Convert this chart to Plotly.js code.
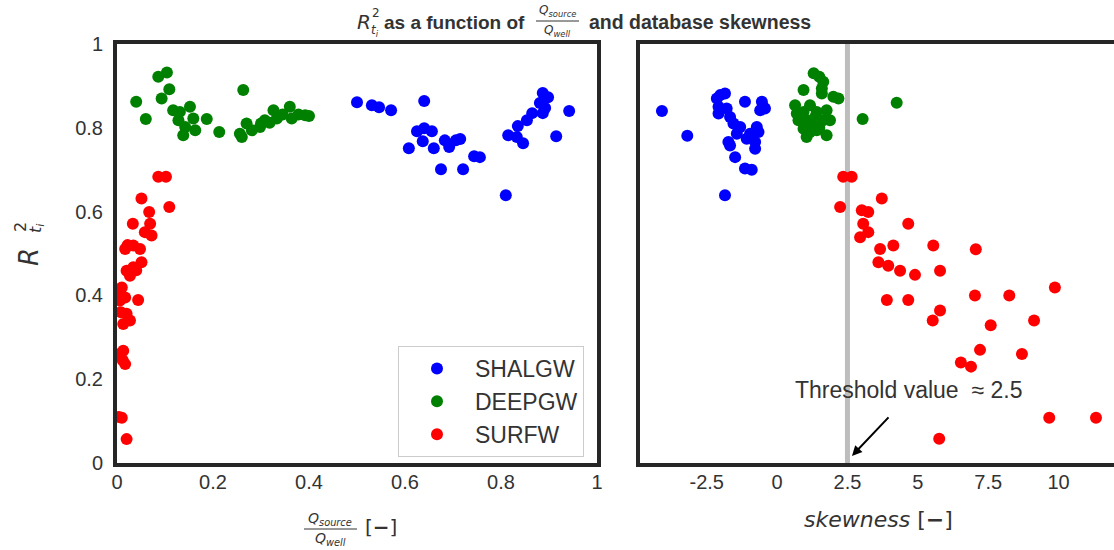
<!DOCTYPE html>
<html>
<head>
<meta charset="utf-8">
<script src="https://cdn.plot.ly/plotly-3.0.1.min.js"></script>
<style>html,body{margin:0;padding:0;background:#fff;}#chart{width:1114px;height:550px;}</style>
</head>
<body>
<div id="chart"></div>
<script>
// ---------- data ----------
const seriesNames = ['SHALGW', 'DEEPGW', 'SURFW'];
const seriesColors = ['#0000ff', '#008000', '#ff0000'];

// left panel: Q_source / Q_well ratio vs R2
const shalRatio = [0.887,0.898,0.881,0.892,0.887,0.865,0.854,0.835,0.815,0.833,0.846,0.942,0.915,0.756,0.810,0.500,0.531,0.546,0.571,0.640,0.625,0.640,0.656,0.608,0.637,0.660,0.683,0.692,0.706,0.715,0.675,0.721,0.744];
const shalR2    = [0.883,0.873,0.859,0.847,0.835,0.835,0.818,0.804,0.782,0.778,0.763,0.840,0.780,0.730,0.639,0.861,0.854,0.849,0.842,0.864,0.792,0.799,0.792,0.751,0.768,0.751,0.770,0.754,0.770,0.773,0.701,0.701,0.732];

const deepRatio = [0.040,0.060,0.086,0.104,0.093,0.109,0.117,0.131,0.128,0.142,0.138,0.152,0.159,0.163,0.187,0.213,0.263,0.256,0.270,0.281,0.298,0.308,0.326,0.333,0.360,0.364,0.392,0.260,0.300,0.318,0.345,0.378,0.400];
const deepR2    = [0.862,0.821,0.922,0.932,0.870,0.892,0.842,0.838,0.818,0.802,0.782,0.850,0.822,0.794,0.821,0.790,0.890,0.786,0.810,0.794,0.802,0.818,0.842,0.822,0.850,0.822,0.830,0.778,0.810,0.812,0.832,0.832,0.828];

const surfRatio = [0.086,0.102,0.051,0.109,0.067,0.033,0.069,0.058,0.072,0.017,0.034,0.048,0.051,0.034,0.020,0.027,0.010,0.017,0.044,0.020,0.013,0.027,0.013,0.017,0.010,0.020,0.006,0.005,0.008,0.006,0.012,0.022,0.040,0.004];
const surfR2    = [0.683,0.683,0.631,0.611,0.599,0.571,0.571,0.551,0.543,0.511,0.519,0.511,0.479,0.467,0.459,0.447,0.419,0.395,0.389,0.356,0.332,0.340,0.268,0.236,0.108,0.057,0.388,0.400,0.360,0.260,0.245,0.520,0.460,0.110];

// right panel: database skewness vs R2
const shalSkew  = [-4.09,-3.19,-1.85,-2.02,-1.85,-2.14,-2.08,-1.79,-2.08,-1.67,-1.55,-1.31,-1.43,-1.14,-0.54,-0.49,-0.60,-0.43,-0.72,-0.66,-0.96,-1.08,-0.78,-0.78,-1.73,-1.49,-1.14,-0.90,-1.67];
const shalR2s   = [0.840,0.781,0.639,0.878,0.882,0.870,0.850,0.846,0.834,0.826,0.810,0.802,0.786,0.862,0.862,0.850,0.842,0.846,0.802,0.790,0.786,0.774,0.766,0.750,0.766,0.730,0.703,0.700,0.758];

const deepSkew  = [0.94,1.59,1.64,2.00,2.18,0.64,1.17,0.70,0.94,1.41,1.76,0.76,1.05,1.23,1.64,1.88,0.94,1.17,1.41,1.76,1.05,3.04,4.25,1.59,1.35,1.30,1.50,0.85,1.50];
const deepR2s   = [0.890,0.894,0.910,0.874,0.870,0.854,0.854,0.834,0.838,0.838,0.842,0.818,0.818,0.810,0.818,0.818,0.798,0.790,0.794,0.782,0.778,0.821,0.860,0.882,0.826,0.930,0.922,0.830,0.800];

const surfSkew  = [2.35,2.65,3.72,2.24,3.01,3.24,3.06,4.66,3.24,2.95,3.66,4.13,5.55,7.06,3.60,3.95,4.37,4.90,5.79,9.87,3.90,4.66,7.03,8.25,5.79,5.53,7.59,9.13,7.21,8.70,6.53,6.89,9.67,11.33,5.76];
const surfR2s   = [0.683,0.683,0.631,0.611,0.603,0.599,0.571,0.571,0.551,0.539,0.511,0.519,0.519,0.510,0.479,0.471,0.459,0.449,0.459,0.419,0.389,0.389,0.400,0.400,0.364,0.340,0.329,0.340,0.270,0.260,0.240,0.230,0.108,0.108,0.058];

// tick labels
const ratioTickVals = [0, 0.2, 0.4, 0.6, 0.8, 1];
const ratioTickText = ['0', '0.2', '0.4', '0.6', '0.8', '1'];
const r2TickVals = [0, 0.2, 0.4, 0.6, 0.8, 1];
const r2TickText = ['0', '0.2', '0.4', '0.6', '0.8', '1'];
const skewTickVals = [-2.5, 0, 2.5, 5, 7.5, 10];
const skewTickText = ['-2.5', '0', '2.5', '5', '7.5', '10'];
const thresholdValue = 2.5;

// ---------- layout helpers (pixel -> paper) ----------
const W = 1114, H = 550, ML = 117, MR = 0, MT = 44, MB = 87;
const PX = x => (x - ML) / (W - ML - MR);
const PY = y => (H - MB - y) / (H - MT - MB);

const TXT = '#333333';
const FRAME = '#262626';
const SANS = 'Liberation Sans, Arial, sans-serif';
const DJV = 'DejaVu Sans, sans-serif';

const leftX = [shalRatio, deepRatio, surfRatio];
const leftY = [shalR2, deepR2, surfR2];
const rightX = [shalSkew, deepSkew, surfSkew];
const rightY = [shalR2s, deepR2s, surfR2s];

const traces = [];
for (let i = 0; i < 3; i++) {
  traces.push({
    type: 'scatter', mode: 'markers', name: seriesNames[i],
    x: leftX[i], y: leftY[i], xaxis: 'x', yaxis: 'y',
    legendgroup: 'g' + i,
    marker: {color: seriesColors[i], size: 12, line: {width: 0}}
  });
}
for (let i = 0; i < 3; i++) {
  traces.push({
    type: 'scatter', mode: 'markers', name: seriesNames[i],
    x: rightX[i], y: rightY[i], xaxis: 'x2', yaxis: 'y2',
    legendgroup: 'g' + i, showlegend: false,
    marker: {color: seriesColors[i], size: 12, line: {width: 0}}
  });
}

const tickFont = {family: SANS, size: 20, color: TXT};

const annotations = [
  // title pieces
  {text: '<i>R</i>', x: PX(355), y: PY(22), xanchor: 'left', yanchor: 'middle', font: {family: DJV, size: 20, color: TXT}},
  {text: '2', x: PX(370), y: PY(13), xanchor: 'left', yanchor: 'middle', font: {family: DJV, size: 12, color: TXT}},
  {text: '<i>t<sub>i</sub></i>', x: PX(369), y: PY(31), xanchor: 'left', yanchor: 'middle', font: {family: DJV, size: 12, color: TXT}},
  {text: '<b>as a function of</b>', x: PX(382), y: PY(22), xanchor: 'left', yanchor: 'middle', font: {family: SANS, size: 19, color: TXT}},
  {text: '<i>Q<sub>source</sub></i>', x: PX(557), y: PY(11), xanchor: 'center', yanchor: 'middle', font: {family: DJV, size: 12, color: TXT}},
  {text: '<i>Q<sub>well</sub></i>', x: PX(557), y: PY(31), xanchor: 'center', yanchor: 'middle', font: {family: DJV, size: 12, color: TXT}},
  {text: '<b>and database skewness</b>', x: PX(587), y: PY(22), xanchor: 'left', yanchor: 'middle', font: {family: SANS, size: 19.5, color: TXT}},
  // y axis title
  {text: '<i>R</i>', x: PX(29), y: PY(257), textangle: -90, xanchor: 'center', yanchor: 'middle', font: {family: DJV, size: 26, color: TXT}},
  {text: '2', x: PX(21), y: PY(227), textangle: -90, xanchor: 'center', yanchor: 'middle', font: {family: DJV, size: 16, color: TXT}},
  {text: '<i>t<sub>i</sub></i>', x: PX(36), y: PY(228), textangle: -90, xanchor: 'center', yanchor: 'middle', font: {family: DJV, size: 16, color: TXT}},
  // left x axis title
  {text: '<i>Q<sub>source</sub></i>', x: PX(330), y: PY(519), xanchor: 'center', yanchor: 'middle', font: {family: DJV, size: 14, color: TXT}},
  {text: '<i>Q<sub>well</sub></i>', x: PX(330), y: PY(539), xanchor: 'center', yanchor: 'middle', font: {family: DJV, size: 14, color: TXT}},
  {text: '[<b>\u2212</b>]', x: PX(381), y: PY(527), xanchor: 'center', yanchor: 'middle', font: {family: DJV, size: 20, color: TXT}},
  // right x axis title
  {text: '<i>skewness</i> [<b>\u2212</b>]', x: PX(878), y: PY(519), xanchor: 'center', yanchor: 'middle', font: {family: DJV, size: 22, color: TXT}},
  // threshold text + arrow
  {text: 'Threshold value\u00a0 \u2248 2.5', x: PX(908), y: PY(390), xanchor: 'center', yanchor: 'middle', font: {family: SANS, size: 23, color: TXT}},
  {text: '', xref: 'x2', yref: 'y2', x: 2.66, y: 0.017, ax: 38, ay: -40, showarrow: true, arrowhead: 2, arrowsize: 1, arrowwidth: 2, arrowcolor: '#000', standoff: 0}
].map(a => Object.assign({xref: 'paper', yref: 'paper', showarrow: false}, a));

const shapes = [
  {type: 'line', xref: 'x2', yref: 'y2 domain', x0: thresholdValue, x1: thresholdValue, y0: 0, y1: 1, line: {color: '#bdbdbd', width: 5}, layer: 'below'},
  {type: 'line', xref: 'paper', yref: 'paper', x0: PX(536), x1: PX(579), y0: PY(21), y1: PY(21), line: {color: TXT, width: 1}},
  {type: 'line', xref: 'paper', yref: 'paper', x0: PX(304), x1: PX(357), y0: PY(529), y1: PY(529), line: {color: TXT, width: 1}}
];

const layout = {
  width: W, height: H,
  margin: {l: ML, r: MR, t: MT, b: MB, pad: 0},
  paper_bgcolor: '#ffffff', plot_bgcolor: '#ffffff',
  showlegend: true,
  legend: {
    x: PX(398), y: PY(346), xanchor: 'left', yanchor: 'top',
    bgcolor: '#ffffff', bordercolor: '#cccccc', borderwidth: 1,
    font: {family: SANS, size: 23, color: TXT},
    traceorder: 'grouped', tracegroupgap: 0, itemwidth: 66
  },
  xaxis: {
    domain: [0, PX(597)], range: [0, 1], tickvals: ratioTickVals, ticktext: ratioTickText,
    showgrid: false, zeroline: false, showline: true, mirror: true, linecolor: FRAME, linewidth: 4,
    ticks: '', tickfont: tickFont, ticklabelstandoff: -2, anchor: 'y'
  },
  yaxis: {
    domain: [0, 1], range: [0, 1], tickvals: r2TickVals, ticktext: r2TickText,
    showgrid: false, zeroline: false, showline: true, mirror: true, linecolor: FRAME, linewidth: 4,
    ticks: '', tickfont: tickFont, ticklabelstandoff: 6, anchor: 'x'
  },
  xaxis2: {
    domain: [PX(640), 1], range: [-4.87, 11.97], tickvals: skewTickVals, ticktext: skewTickText,
    showgrid: false, zeroline: false, showline: true, mirror: true, linecolor: FRAME, linewidth: 4,
    ticks: '', tickfont: tickFont, ticklabelstandoff: -2, anchor: 'y2'
  },
  yaxis2: {
    domain: [0, 1], range: [0, 1], showticklabels: false,
    showgrid: false, zeroline: false, showline: true, mirror: false, linecolor: FRAME, linewidth: 4,
    ticks: '', anchor: 'x2'
  },
  annotations: annotations,
  shapes: shapes
};

Plotly.newPlot('chart', traces, layout, {displayModeBar: false, staticPlot: true});
</script>
</body>
</html>
